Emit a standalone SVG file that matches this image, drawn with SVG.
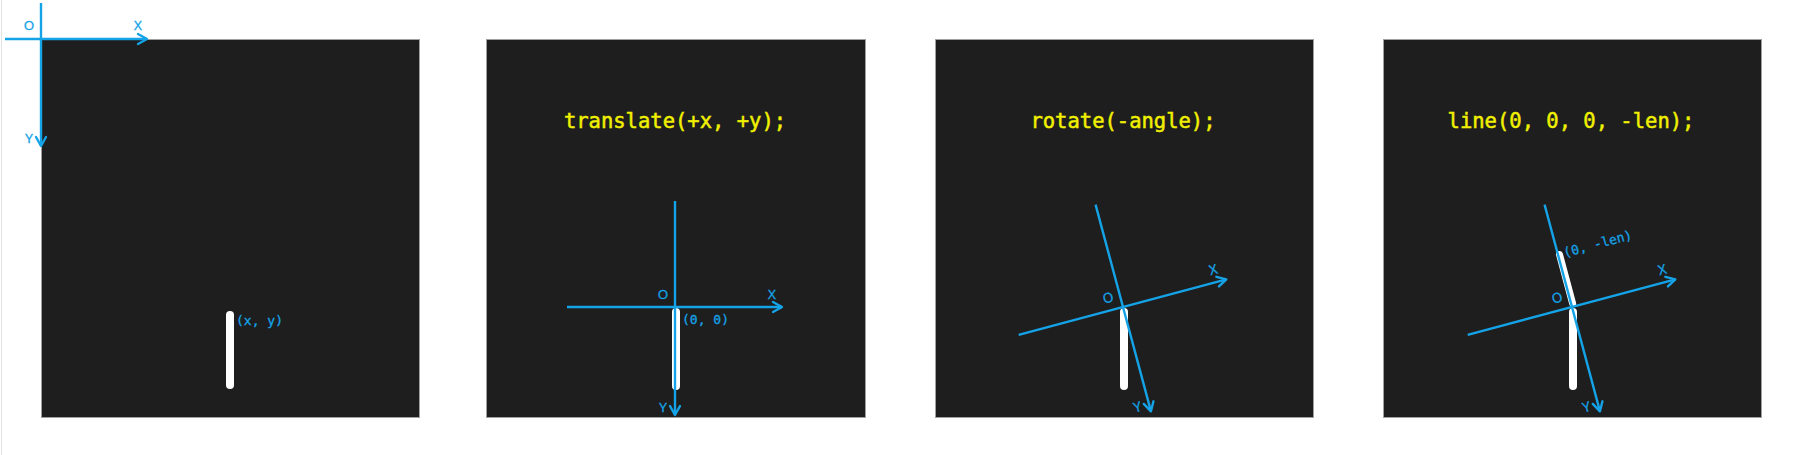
<svg xmlns="http://www.w3.org/2000/svg" width="1800" height="455" viewBox="0 0 1800 455">
<style>
.panel{fill:#1e1e1e;stroke:#a0a0a0;stroke-width:1}
.axis{stroke:#15a3e8;stroke-width:2.4;fill:none;stroke-linecap:butt}
.stick{stroke:#ffffff;stroke-width:8;stroke-linecap:round}
.stick2{stroke:#ffffff;stroke-width:7;stroke-linecap:round}
.lab{font-family:"Open Sans","Noto Sans",sans-serif;font-size:13.5px;fill:#15a3e8;stroke:#15a3e8;stroke-width:0.35;text-anchor:middle}
.coord{font-family:"DejaVu Sans Mono",monospace;font-size:13px;fill:#15a3e8;stroke:#15a3e8;stroke-width:0.3}
.code{font-family:"DejaVu Sans Mono",monospace;font-size:20.5px;fill:#f0f000;stroke:#f0f000;stroke-width:0.5;text-anchor:middle}
</style>
<defs>
<marker id="arr" viewBox="-11 -7 13 14" refX="0" refY="0" markerWidth="13" markerHeight="14" markerUnits="userSpaceOnUse" orient="auto">
<path d="M-9,-5 L0,0 L-9,5" fill="none" stroke="#15a3e8" stroke-width="2.4" stroke-linejoin="round" stroke-linecap="round"/>
</marker>
</defs>
<rect width="1800" height="455" fill="#ffffff"/>
<line x1="1.5" y1="0" x2="1.5" y2="455" stroke="#e3e3e3" stroke-width="1"/>

<g id="panel1">
<rect class="panel" x="41.5" y="39.5" width="378" height="378"/>
<line class="stick" x1="230" y1="315" x2="230" y2="385"/>
<text class="coord" x="236" y="325">(x, y)</text>
<g transform="translate(41,39)">
<line class="axis" x1="-36" y1="0" x2="106" y2="0" marker-end="url(#arr)"/>
<line class="axis" x1="0" y1="-36" x2="0" y2="107" marker-end="url(#arr)"/>
<text class="lab" x="-12" y="-9">O</text>
<text class="lab" x="97" y="-9">X</text>
<text class="lab" x="-12" y="104">Y</text>
</g>
</g>

<g id="panel2">
<rect class="panel" x="486.5" y="39.5" width="379" height="378"/>
<text class="code" x="675" y="128">translate(+x, +y);</text>
<g transform="translate(675,307)">
<line class="stick" x1="1" y1="5" x2="1" y2="79"/>
<text class="coord" x="7" y="17">(0, 0)</text>
<line class="axis" x1="-108" y1="0" x2="107" y2="0" marker-end="url(#arr)"/>
<line class="axis" x1="0" y1="-106" x2="0" y2="108" marker-end="url(#arr)"/>
<text class="lab" x="-12" y="-8">O</text>
<text class="lab" x="97" y="-8">X</text>
<text class="lab" x="-12" y="105">Y</text>
</g>
</g>

<g id="panel3">
<rect class="panel" x="935.5" y="39.5" width="378" height="378"/>
<text class="code" x="1123" y="128">rotate(-angle);</text>
<g transform="translate(1123,307)">
<line class="stick" x1="1" y1="5" x2="1" y2="79"/>
<g transform="rotate(-15)">
<line class="axis" x1="-108" y1="0" x2="107" y2="0" marker-end="url(#arr)"/>
<line class="axis" x1="0" y1="-106" x2="0" y2="108" marker-end="url(#arr)"/>
<text class="lab" x="-12" y="-8">O</text>
<text class="lab" x="97" y="-8">X</text>
<text class="lab" x="-12" y="105">Y</text>
</g>
</g>
</g>

<g id="panel4">
<rect class="panel" x="1383.5" y="39.5" width="378" height="378"/>
<text class="code" x="1571" y="128">line(0, 0, 0, -len);</text>
<g transform="translate(1572,307)">
<line class="stick" x1="1" y1="5" x2="1" y2="79"/>
<g transform="rotate(-15)">
<line class="stick2" x1="1.5" y1="-3" x2="1.5" y2="-54"/>
<text class="coord" x="6" y="-50">(0, -len)</text>
<line class="axis" x1="-108" y1="0" x2="107" y2="0" marker-end="url(#arr)"/>
<line class="axis" x1="0" y1="-106" x2="0" y2="108" marker-end="url(#arr)"/>
<text class="lab" x="-12" y="-8">O</text>
<text class="lab" x="97" y="-8">X</text>
<text class="lab" x="-12" y="105">Y</text>
</g>
</g>
</g>
</svg>
